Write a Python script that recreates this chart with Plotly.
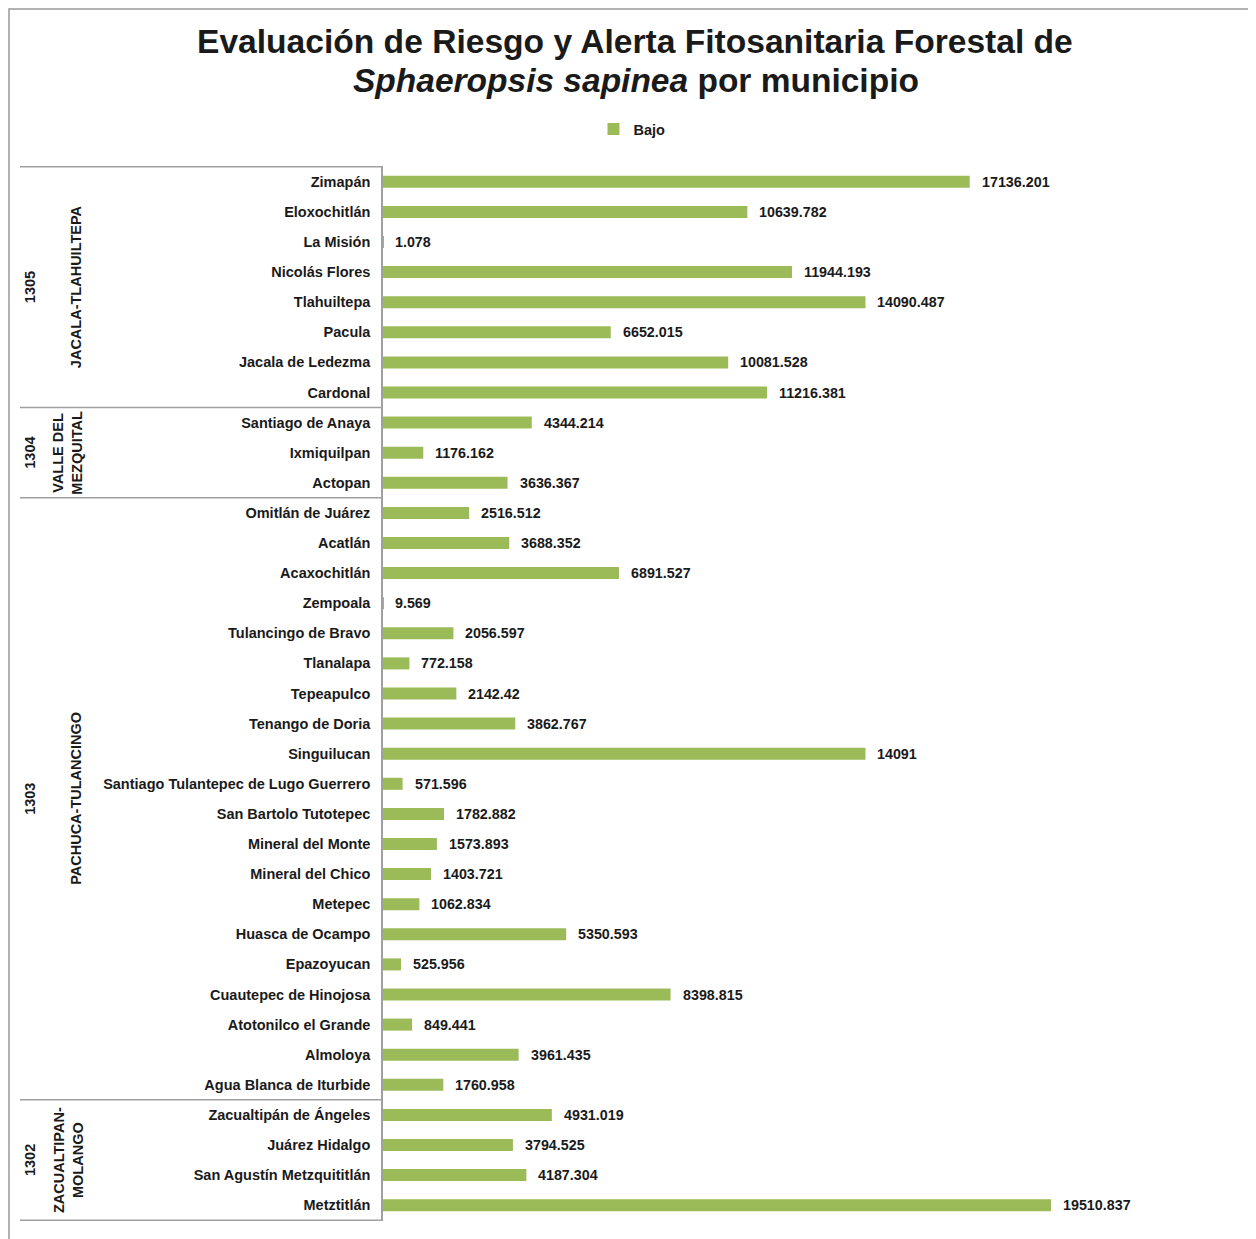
import plotly.graph_objects as go

municipios = [
    "Zimapán", "Eloxochitlán", "La Misión", "Nicolás Flores", "Tlahuiltepa", "Pacula",
    "Jacala de Ledezma", "Cardonal",
    "Santiago de Anaya", "Ixmiquilpan", "Actopan",
    "Omitlán de Juárez", "Acatlán", "Acaxochitlán", "Zempoala", "Tulancingo de Bravo",
    "Tlanalapa", "Tepeapulco", "Tenango de Doria", "Singuilucan",
    "Santiago Tulantepec de Lugo Guerrero", "San Bartolo Tutotepec", "Mineral del Monte",
    "Mineral del Chico", "Metepec", "Huasca de Ocampo", "Epazoyucan", "Cuautepec de Hinojosa",
    "Atotonilco el Grande", "Almoloya", "Agua Blanca de Iturbide",
    "Zacualtipán de Ángeles", "Juárez Hidalgo", "San Agustín Metzquititlán", "Metztitlán",
]
bajo = [
    17136.201, 10639.782, 1.078, 11944.193, 14090.487, 6652.015, 10081.528, 11216.381,
    4344.214, 1176.162, 3636.367,
    2516.512, 3688.352, 6891.527, 9.569, 2056.597, 772.158, 2142.42, 3862.767, 14091,
    571.596, 1782.882, 1573.893, 1403.721, 1062.834, 5350.593, 525.956, 8398.815,
    849.441, 3961.435, 1760.958,
    4931.019, 3794.525, 4187.304, 19510.837,
]
grupo_codigos = ["1305", "1304", "1303", "1302"]
grupo_nombres = ["JACALA-TLAHUILTEPA", "VALLE DEL<br>MEZQUITAL", "PACHUCA-TULANCINGO",
                 "ZACUALTIPAN-<br>MOLANGO"]
grupo_tamanos = [8, 3, 20, 4]

OFF = 8  # page body margin
W, H = 1256 - OFF, 1239 - OFF
# plot area in page pixels
PL, PR, PT, PB = 383, 1239, 166, 1221
L, R, T, B = PL - OFF, W - (PR - OFF), PT - OFF, H - (PB - OFF)
plot_w = PR - PL
plot_h = PB - PT

def px_x(px):
    return (px - PL) / plot_w

def px_y(py):
    return (PB - py) / plot_h

GREEN = "#9BBB59"
FONT = "Liberation Sans, Arial, sans-serif"
TXT = "#1a1a1a"

fig = go.Figure()
fig.add_trace(go.Bar(
    y=municipios, x=bajo, orientation="h", name="<b>Bajo</b>",
    marker=dict(color=GREEN, line=dict(width=0)),
))

annotations = []
for m, v in zip(municipios, bajo):
    annotations.append(dict(
        x=v, y=m, xref="x", yref="y", text="<b>%s</b>" % (str(v)),
        showarrow=False, xanchor="left", xshift=10,
        font=dict(family=FONT, size=14.3, color=TXT),
    ))

# title
annotations.append(dict(
    x=px_x(635), y=px_y(42), xref="paper", yref="paper", xanchor="center", yanchor="middle",
    text="<b>Evaluación de Riesgo y Alerta Fitosanitaria Forestal de</b>", showarrow=False,
    font=dict(family=FONT, size=33.6, color=TXT),
))
annotations.append(dict(
    x=px_x(636), y=px_y(80), xref="paper", yref="paper", xanchor="center", yanchor="middle",
    text="<b><i>Sphaeropsis sapinea</i> por municipio</b>", showarrow=False,
    font=dict(family=FONT, size=33.5, color=TXT),
))

shapes = []
start = 0
bounds = [-0.5]
for code, name, n in zip(grupo_codigos, grupo_nombres, grupo_tamanos):
    center = start + (n - 1) / 2
    annotations.append(dict(
        x=px_x(30), y=center, xref="paper", yref="y", xanchor="center", yanchor="middle",
        text="<b>%s</b>" % code, textangle=-90, showarrow=False,
        font=dict(family=FONT, size=14.5, color=TXT),
    ))
    annotations.append(dict(
        x=px_x(68 if "<br>" in name else 76), y=center, xref="paper", yref="y",
        xanchor="center", yanchor="middle",
        text="<b>%s</b>" % name, textangle=-90, showarrow=False,
        font=dict(family=FONT, size=14.5, color=TXT),
    ))
    start += n
    bounds.append(start - 0.5)

for b in bounds:
    shapes.append(dict(
        type="line", xref="paper", yref="y",
        x0=px_x(20), x1=0, y0=b, y1=b,
        line=dict(color="#a0a0a0", width=1.5),
    ))

# outer frame
shapes.append(dict(
    type="rect", xref="paper", yref="paper",
    x0=px_x(9), x1=px_x(1300),
    y0=px_y(1300), y1=px_y(OFF + 1),
    line=dict(color="#999999", width=1.5), fillcolor="rgba(0,0,0,0)",
))

fig.update_layout(
    width=W, height=H,
    margin=dict(l=L, r=R, t=T, b=B),
    paper_bgcolor="white", plot_bgcolor="white",
    bargap=0.6,
    showlegend=True,
    legend=dict(
        orientation="h", x=px_x(632), xanchor="center",
        y=px_y(129), yanchor="middle",
        font=dict(family=FONT, size=14.5, color=TXT),
        itemwidth=30,
    ),
    xaxis=dict(
        range=[0, 25000], showgrid=False, zeroline=False, showticklabels=False,
        showline=False, ticks="",
    ),
    yaxis=dict(
        autorange="reversed", showgrid=False, zeroline=False,
        showline=True, linecolor="#a0a0a0", linewidth=1.5,
        ticks="", ticklabelstandoff=8,
        tickfont=dict(family=FONT, size=14.5, color=TXT),
        tickprefix="<b>", ticksuffix="</b>",
    ),
    annotations=annotations,
    shapes=shapes,
)

fig.write_html("out.html")
